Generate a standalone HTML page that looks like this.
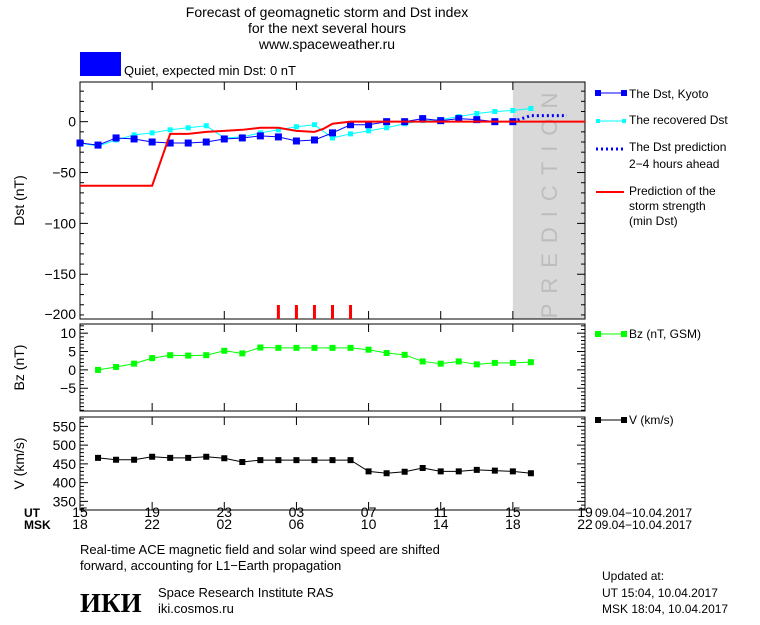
<!DOCTYPE html>
<html><head><meta charset="utf-8"><style>
body{margin:0;background:#fff;width:760px;height:620px;overflow:hidden;font-family:"Liberation Sans",sans-serif}
svg text{font-family:"Liberation Sans",sans-serif;fill:#000}
</style></head><body>
<svg id="c" width="760" height="620" xmlns="http://www.w3.org/2000/svg">
<text x="327" y="17" font-size="14" text-anchor="middle">Forecast of geomagnetic storm and Dst index</text>
<text x="327" y="33" font-size="14" text-anchor="middle">for the next several hours</text>
<text x="327" y="49" font-size="14" text-anchor="middle">www.spaceweather.ru</text>
<rect x="80" y="52" width="41" height="24" fill="#0000ff"/>
<text x="124" y="75" font-size="13">Quiet, expected min Dst: 0 nT</text>
<g id="plots"></g>
<g>
<g><line x1="598" y1="93" x2="624" y2="93" stroke="#0000ff" stroke-width="1"/><rect x="595" y="90" width="6" height="6" fill="#0000ff"/><rect x="621" y="90" width="6" height="6" fill="#0000ff"/><text x="629" y="98" font-size="12">The Dst, Kyoto</text></g>
<g><line x1="598" y1="121" x2="624" y2="121" stroke="#00ffff"/><rect x="596" y="119" width="4" height="4" fill="#00ffff"/><rect x="622" y="119" width="4" height="4" fill="#00ffff"/><text x="629" y="124" font-size="12">The recovered Dst</text></g>
<g><line x1="596" y1="149" x2="624" y2="149" stroke="#0000ff" stroke-width="3" stroke-dasharray="2,3"/><text x="629" y="151" font-size="12">The Dst prediction</text><text x="629" y="168" font-size="12">2−4 hours ahead</text></g>
<g><line x1="596" y1="192" x2="624" y2="192" stroke="#ff0000" stroke-width="2"/><text x="629" y="195" font-size="12">Prediction of the</text><text x="629" y="210" font-size="12">storm strength</text><text x="629" y="225" font-size="12">(min Dst)</text></g>
<g><line x1="598" y1="334" x2="624" y2="334" stroke="#00ff00"/><rect x="595" y="331" width="6" height="6" fill="#00ff00"/><rect x="621" y="331" width="6" height="6" fill="#00ff00"/><text x="629" y="338" font-size="12">Bz (nT, GSM)</text></g>
<g><line x1="598" y1="420" x2="624" y2="420" stroke="#000"/><rect x="595" y="417" width="6" height="6" fill="#000"/><rect x="621" y="417" width="6" height="6" fill="#000"/><text x="629" y="424" font-size="12">V (km/s)</text></g>
</g>
<text x="24" y="517" font-size="12" font-weight="bold">UT</text>
<text x="24" y="529" font-size="12" font-weight="bold">MSK</text>
<text x="595" y="517" font-size="12">09.04−10.04.2017</text>
<text x="595" y="529" font-size="12">09.04−10.04.2017</text>
<text x="80" y="554" font-size="13">Real-time ACE magnetic field and solar wind speed are shifted</text>
<text x="80" y="570" font-size="13">forward, accounting for L1−Earth propagation</text>
<text x="80" y="612" font-size="27" font-weight="bold" style="font-family:'Liberation Serif',serif">ИКИ</text>
<text x="158" y="597" font-size="13">Space Research Institute RAS</text>
<text x="158" y="613" font-size="13">iki.cosmos.ru</text>
<text x="602" y="580" font-size="12">Updated at:</text>
<text x="602" y="597" font-size="12">UT   15:04, 10.04.2017</text>
<text x="602" y="613" font-size="12">MSK 18:04, 10.04.2017</text>
</svg>
<script>
const dstHours=[15,16,17,18,19,20,21,22,23,24,25,26,27,28,29,30,31,32,33,34,35,36,37,38,39];
const dstValues=[-21,-23,-16,-17,-20,-21,-21,-20,-17,-16,-14,-15,-19,-18,-11,-3,-3,0,0,3,1,3,2,0,0];
const recHours=[15,16,17,18,19,20,21,22,23,24,25,26,27,28,29,30,31,32,33,34,35,36,37,38,39,40];
const recValues=[-21,-24,-18,-13,-11,-8,-6,-4,-16,-15,-11,-8,-5,-3,-16,-12,-9,-6,-2,1,2,5,8,10,11,13];
const predHours=[39,39.5,40,41,42];
const predValues=[0,3,6,6,6];
const stormHours=[15,19,20,21,22,23,24,25,26,27,28,28.5,29,30,43];
const stormValues=[-63,-63,-12,-12,-10,-9,-8,-6,-6,-9,-10,-7,-2,0,0];
const stormTickHours=[26,27,28,29,30];
const bzHours=[16,17,18,19,20,21,22,23,24,25,26,27,28,29,30,31,32,33,34,35,36,37,38,39,40];
const bzValues=[0,0.8,1.7,3.2,4,3.9,4,5.2,4.5,6.1,6,6,6,6,6,5.5,4.6,4.1,2.3,1.7,2.3,1.5,1.9,1.9,2.1];
const vHours=[16,17,18,19,20,21,22,23,24,25,26,27,28,29,30,31,32,33,34,35,36,37,38,39,40];
const vValues=[466,461,461,469,466,466,469,465,455,460,460,460,460,460,460,430,425,429,439,430,430,434,432,430,425];
const utLabels=["15","19","23","03","07","11","15","19"];
const mskLabels=["18","22","02","06","10","14","18","22"];
const dstTicks=[0,-50,-100,-150,-200];
const bzTicks=[10,5,0,-5];
const vTicks=[550,500,450,400,350];

const NS="http://www.w3.org/2000/svg";
const root=document.getElementById('plots');
const X0=80,X1=585,H0=15,H1=43;
const xs=h=>X0+(h-H0)*(X1-X0)/(H1-H0);
function mk(tag,at,parent){const e=document.createElementNS(NS,tag);for(const k in at)e.setAttribute(k,at[k]);(parent||root).appendChild(e);return e;}
function panel(name,top,bot,vmin,vmax,ticks,minorStep,title){
  const ys=v=>bot-(v-vmin)*(bot-top)/(vmax-vmin);
  const g=mk('g',{});
  
  
  return {g,ys,top,bot,vmin,vmax,ticks,minorStep,title,name};
}
function frame(p){
  const g=p.g;
  for(let v=Math.ceil(p.vmin/p.minorStep)*p.minorStep;v<=p.vmax;v+=p.minorStep){
    const y=p.ys(v);const maj=p.ticks.includes(v);const L=maj?8:4;
    mk('line',{x1:X0,x2:X0+L,y1:y,y2:y,stroke:'#000'},g);
    mk('line',{x1:X1-L,x2:X1,y1:y,y2:y,stroke:'#000'},g);
  }
  p.ticks.forEach(v=>{const ty=Math.min(p.ys(v)+5,p.bot);const t=mk('text',{x:X0-4,y:ty,'font-size':14,'text-anchor':'end'},g);t.textContent=v<0?'−'+(-v):String(v);
    
    });
  for(let h=H0;h<=H1;h+=4){const x=xs(h);
    mk('line',{x1:x,x2:x,y1:p.bot,y2:p.bot-8,stroke:'#000'},g);
    mk('line',{x1:x,x2:x,y1:p.top,y2:p.top+8,stroke:'#000'},g);}
  mk('rect',{x:X0,y:p.top,width:X1-X0,height:p.bot-p.top,fill:'none',stroke:'#000'},g);
  const cy=(p.top+p.bot)/2;
  const t=mk('text',{x:0,y:0,'font-size':14,'text-anchor':'middle',transform:`translate(24 ${cy}) rotate(-90)`},g);
  t.textContent=p.title;
  
  
}
function series(p,hs,vs,color,ms,name,width,dash){
  const pts=hs.map((h,i)=>xs(h)+','+p.ys(vs[i])).join(' ');
  const pl=mk('polyline',{points:pts,fill:'none',stroke:color,'stroke-width':width||1},p.g);
  if(dash)pl.setAttribute('stroke-dasharray',dash);
  
  
  if(ms)hs.forEach((h,i)=>{const r=mk('rect',{x:xs(h)-ms/2,y:p.ys(vs[i])-ms/2,width:ms,height:ms,fill:color},p.g);
    
    });
}
const pd=panel('dst',82,319,-194,39,dstTicks,10,'Dst (nT)');
const sh=mk('rect',{x:xs(39),y:82,width:X1-xs(39),height:237,fill:'#d9d9d9'},pd.g);


const pt=mk('text',{x:0,y:0,'font-size':22,'text-anchor':'middle',fill:'#bdbdbd','letter-spacing':'10',transform:`translate(557 ${(82+319)/2}) rotate(-90)`},pd.g);
pt.textContent='PREDICTION';


pt.style.fill='#bdbdbd';
frame(pd);
series(pd,recHours,recValues,'#00ffff',5,'recovered-dst');
series(pd,dstHours,dstValues,'#0000ff',7,'dst-kyoto');
series(pd,predHours,predValues,'#0000ff',0,'dst-prediction',3,'2,3');
series(pd,stormHours,stormValues,'#ff0000',0,'storm-strength',2);
stormTickHours.forEach(h=>{const l=mk('line',{x1:xs(h),x2:xs(h),y1:305,y2:319,stroke:'#ff0000','stroke-width':3},pd.g);
  
  });
const pb=panel('bz',324,411,-11.2,12.5,bzTicks,1,'Bz (nT)');
frame(pb);
series(pb,bzHours,bzValues,'#00ff00',6,'bz');
const pv=panel('v',417,510,327,575,vTicks,10,'V (km/s)');
frame(pv);
series(pv,vHours,vValues,'#000000',6,'v');
utLabels.forEach((s,i)=>{const x=xs(H0+4*i);
  const a=mk('text',{x:x,y:517,'font-size':14,'text-anchor':'middle'});a.textContent=s;
  
  
  const b=mk('text',{x:x,y:529,'font-size':14,'text-anchor':'middle'});b.textContent=mskLabels[i];
  
  });
</script>
</body></html>
